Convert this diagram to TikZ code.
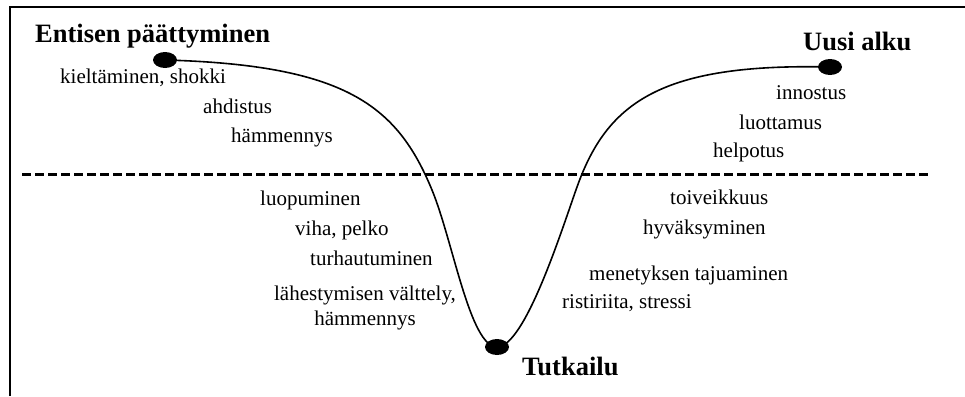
\documentclass[tikz,border=0pt]{standalone}
\usepackage{fontspec}
\setmainfont{Liberation Serif}
\usepackage{tikz}
\usetikzlibrary{shapes.geometric,positioning}

\begin{document}
\begin{tikzpicture}[x=1pt, y=-1pt,
    dot/.style={ellipse, fill=black, minimum width=24pt, minimum height=16pt, inner sep=0pt},
    feel/.style={anchor=base west, inner sep=0pt, font=\fontsize{21}{25}\selectfont},
    phase/.style={anchor=base west, inner sep=0pt, font=\fontsize{26.5}{30}\selectfont\bfseries}]
\useasboundingbox (0,0) rectangle (965,396);

% Frame
\draw[line width=2pt] (10,396) -- (10,7) -- (965,7);

% Dashed divider
\draw[line width=3pt, dash pattern=on 9pt off 4pt] (22,174) -- (930,174);

% Phase points
\node[dot] (start) at (165,60) {};
\node[dot] (bottom) at (497,347) {};
\node[dot] (end) at (830,67) {};

% Curve
\draw[line width=1.6pt] (start.center) .. controls (345,65) and (397,105) .. (432,190)
    .. controls (453,241) and (470,347) .. (bottom.center)
    .. controls (525,347) and (562,229) .. (577,187)
    .. controls (607,103) and (660,63) .. (end.center);

% Phase names
\node[phase] (ending) at (35,43) {Entisen päättyminen};
\node[phase] (newstart) at (803,50) {Uusi alku};
\node[phase] (explore) at (522,375) {Tutkailu};

% Feelings - ending
\node[feel] (denial) at (60,83) {kieltäminen, shokki};
\node[feel] (anxiety) at (203,113) {ahdistus};
\node[feel] (confusion) at (231,142) {hämmennys};

% Feelings - new start
\node[feel] (enthus) at (776,99) {innostus};
\node[feel] (trust) at (739,129) {luottamus};
\node[feel] (relief) at (713,157) {helpotus};

% Feelings - going down
\node[feel] (letgo) at (260,205) {luopuminen};
\node[feel] (anger) at (295,235) {viha, pelko};
\node[feel] (frustr) at (310,265) {turhautuminen};
\node[feel, anchor=center, align=center] (avoid) at (365,307.5) {lähestymisen välttely,\\hämmennys};

% Feelings - coming up
\node[feel] (hope) at (670,204) {toiveikkuus};
\node[feel] (accept) at (643,234) {hyväksyminen};
\node[feel] (loss) at (589,280) {menetyksen tajuaminen};
\node[feel] (conflict) at (562,308) {ristiriita, stressi};

\end{tikzpicture}
\end{document}
